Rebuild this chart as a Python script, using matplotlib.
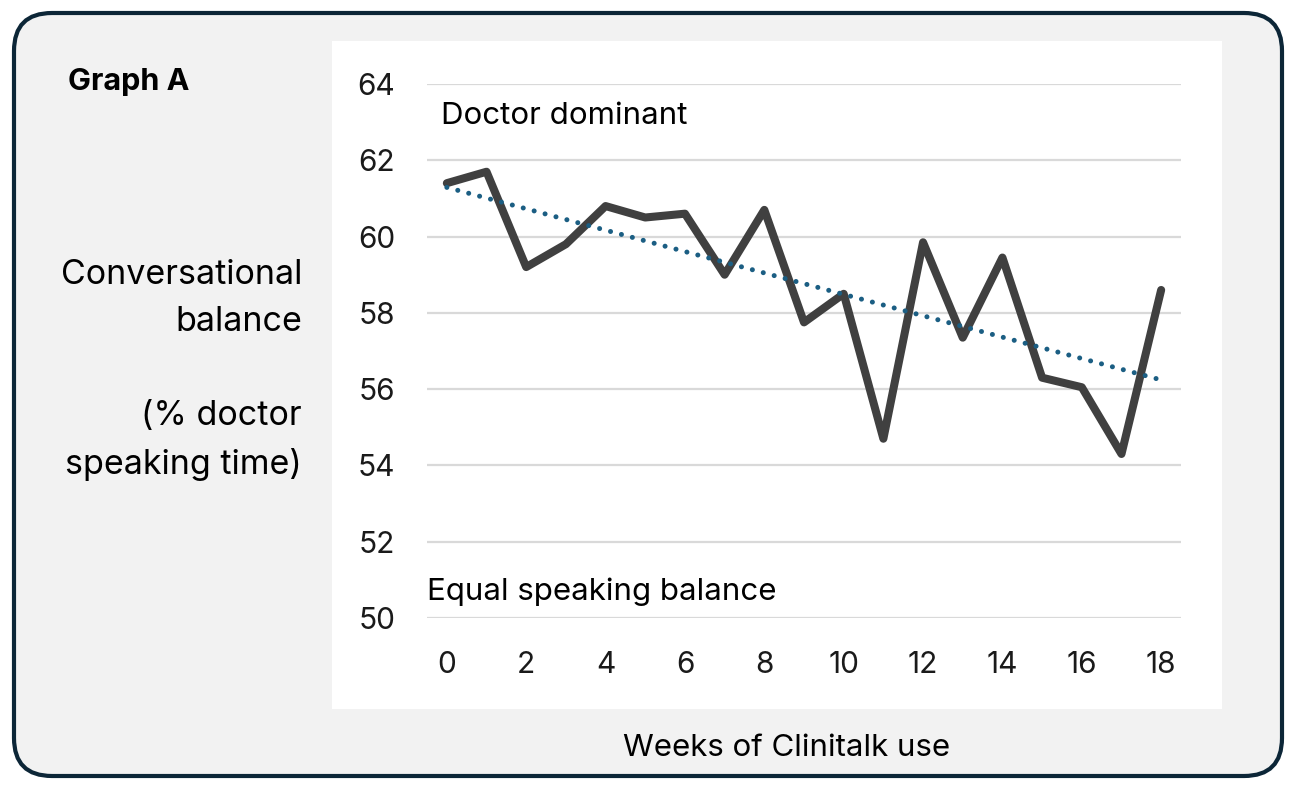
import numpy as np
import matplotlib
matplotlib.use("Agg")
import matplotlib.pyplot as plt
from matplotlib.patches import FancyBboxPatch, Rectangle

plt.rcParams['font.family'] = ['Inter', 'DejaVu Sans']

# data
weeks = np.arange(0, 19)
balance = [61.4, 61.7, 59.2, 59.8, 60.8, 60.5, 60.6, 59.0, 60.7, 57.75,
           58.5, 54.7, 59.85, 57.35, 59.45, 56.3, 56.05, 54.3, 58.6]
yticks = [50, 52, 54, 56, 58, 60, 62, 64]
xticks = [0, 2, 4, 6, 8, 10, 12, 14, 16, 18]

W, H = 1296, 789
fig = plt.figure(figsize=(W / 100, H / 100), dpi=100)
fig.patch.set_facecolor('white')

# background panel in pixel coordinates
bg = fig.add_axes([0, 0, 1, 1])
bg.set_xlim(0, W)
bg.set_ylim(H, 0)
bg.axis('off')
bg.add_patch(FancyBboxPatch((14, 13), W - 28, H - 26,
                            boxstyle="round,pad=0,rounding_size=38",
                            facecolor='#f2f2f2', edgecolor='#0c2637', linewidth=3))
bg.add_patch(Rectangle((332, 41), 890, 668, facecolor='white', edgecolor='none'))

bg.text(68, 82, 'Graph A', fontsize=22, fontweight='bold', ha='left', va='center')
bg.text(302, 370, 'Conversational\nbalance\n\n(% doctor\nspeaking time)',
        fontsize=24.5, ha='right', va='center', linespacing=1.6)
bg.text(787, 748, 'Weeks of Clinitalk use', fontsize=22.5, ha='center', va='center')

ax = fig.add_axes([427 / W, 1 - 618 / H, (1181 - 427) / W, (618 - 84) / H])
ax.patch.set_alpha(0)
ax.set_xlim(-0.5, 18.5)
ax.set_ylim(50, 64)
for y in yticks:
    ax.axhline(y, color='#d9d9d9', linewidth=1.6, zorder=1)

ax.plot(weeks, balance, color='#404040', linewidth=5.8,
        solid_joinstyle='round', solid_capstyle='round', zorder=3)

# linear trend line
coef = np.polyfit(weeks, balance, 1)
trend = np.polyval(coef, weeks)
ax.plot(weeks, trend, color='#1b5e83', linewidth=3.6,
        linestyle=(0, (0.01, 2.25)), dash_capstyle='round', zorder=4)

ax.set_xticks(xticks)
ax.set_yticks(yticks)
ax.tick_params(length=0, labelsize=21.5, colors='#1a1a1a')
ax.tick_params(axis='x', pad=24)
ax.tick_params(axis='y', pad=23)
for s in ax.spines.values():
    s.set_visible(False)

ax.text(-0.15, 63.15, 'Doctor dominant', fontsize=22.5, ha='left', va='center')
ax.text(-0.5, 50.7, 'Equal speaking balance', fontsize=22.5, ha='left', va='center')

fig.savefig('out.png', dpi=100)
